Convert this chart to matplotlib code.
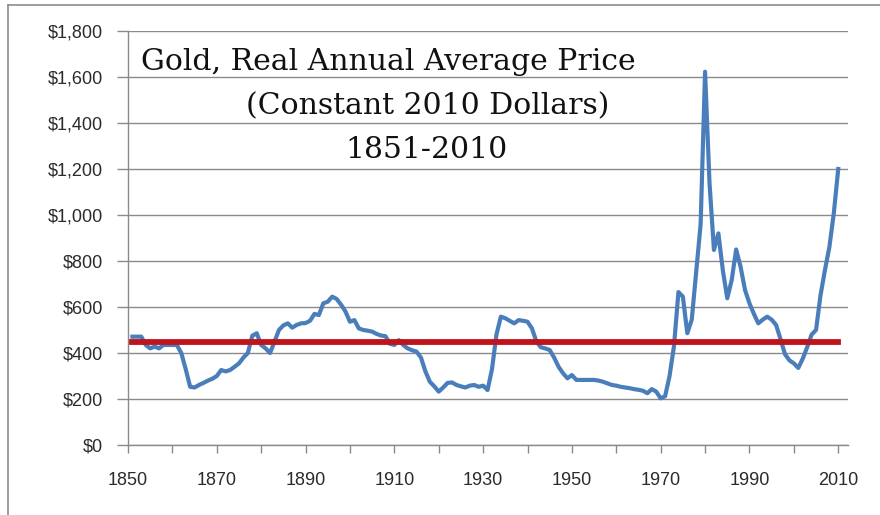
import matplotlib
matplotlib.use("Agg")
import matplotlib.pyplot as plt
from matplotlib.lines import Line2D
from matplotlib.ticker import MultipleLocator, FuncFormatter

# real annual average gold price, constant 2010 dollars
years = list(range(1851, 2011))
prices = [
    471, 471, 471, 435, 420, 428, 420, 435, 435, 435,        # 1851-1860
    435, 400, 330, 253, 250, 261, 270, 280, 288, 300,        # 1861-1870
    326, 320, 326, 340, 355, 380, 400, 475, 486, 435,        # 1871-1880
    420, 400, 449, 500, 520, 529, 510, 522, 529, 530,        # 1881-1890
    540, 570, 565, 616, 623, 645, 635, 610, 580, 536,        # 1891-1900
    543, 507, 500, 497, 493, 483, 476, 473, 440, 435,        # 1901-1910
    456, 435, 420, 412, 406, 380, 320, 275, 255, 232,        # 1911-1920
    250, 270, 272, 261, 255, 250, 258, 261, 253, 258,        # 1921-1930
    239, 330, 480, 558, 551, 540, 529, 543, 540, 536,        # 1931-1940
    507, 450, 425, 420, 413, 380, 340, 312, 290, 304,        # 1941-1950
    283, 283, 283, 283, 283, 280, 275, 268, 261, 258,        # 1951-1960
    253, 250, 247, 243, 240, 236, 225, 243, 232, 203,        # 1961-1970
    212, 300, 430, 665, 645, 486, 545, 750, 960, 1623,       # 1971-1980
    1140, 848, 920, 760, 638, 717, 850, 775, 674, 616,       # 1981-1990
    570, 529, 545, 558, 545, 522, 460, 395, 368, 355,        # 1991-2000
    335, 375, 425, 480, 500, 650, 760, 860, 1007, 1200,      # 2001-2010
]
average = 450

title_lines = ["Gold, Real Annual Average Price", "(Constant 2010 Dollars)", "1851-2010"]

BLUE = "#4a7ebb"
RED = "#c0141c"
GRID = "#8a8a8a"
TEXT = "#2b2b2b"

fig = plt.figure(figsize=(8.8, 5.15), dpi=100)
ax = fig.add_axes([128 / 880, 1 - 445 / 515, 720 / 880, 414 / 515])

ax.plot(years, prices, color=BLUE, lw=3.0, solid_joinstyle="round", zorder=3)
ax.plot([years[0], years[-1]], [average, average], color=RED, lw=4.2, zorder=4)

ax.set_xlim(1850, 2012.2)
ax.set_ylim(0, 1800)
ax.xaxis.set_major_locator(MultipleLocator(10))
ax.xaxis.set_major_formatter(FuncFormatter(lambda v, p: "%d" % v if int(round(v)) % 20 == 10 else ""))
ax.yaxis.set_major_locator(MultipleLocator(200))
ax.yaxis.set_major_formatter(FuncFormatter(lambda v, p: "${:,.0f}".format(v)))

ax.grid(axis="y", color=GRID, lw=1.0)
ax.set_axisbelow(True)
for side in ["top", "right"]:
    ax.spines[side].set_visible(False)
for side in ["left", "bottom"]:
    ax.spines[side].set_color(GRID)
    ax.spines[side].set_linewidth(1.0)

ax.tick_params(axis="y", length=8, width=1, color=GRID, pad=10,
               labelsize=13, labelcolor=TEXT)
ax.tick_params(axis="x", length=5.5, width=1, color=GRID, pad=14,
               labelsize=13, labelcolor=TEXT)
for lab in ax.get_xticklabels() + ax.get_yticklabels():
    lab.set_family("Liberation Sans")

# title lines inside the plot
title_pos = [(388, 62), (428, 106), (426, 150)]
for txt, (px, py) in zip(title_lines, title_pos):
    fig.text(px / 880, 1 - py / 515, txt, ha="center", va="center",
             fontsize=21.5, family="DejaVu Serif", color="#111111", zorder=5)

# chart area frame (only top and left edges are visible in the crop)
fig.add_artist(Line2D([8 / 880, 1], [1 - 5 / 515, 1 - 5 / 515], color="#8c8c8c", lw=1.2))
fig.add_artist(Line2D([8 / 880, 8 / 880], [0, 1 - 5 / 515], color="#8c8c8c", lw=1.2))

fig.savefig("out.png", dpi=100)
